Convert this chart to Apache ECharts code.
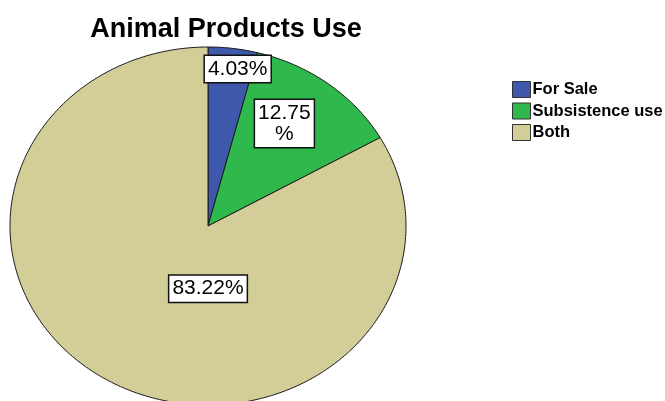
<!DOCTYPE html>
<html><head><meta charset="utf-8">
<script src="https://cdn.jsdelivr.net/npm/echarts@6/dist/echarts.min.js"></script>
<style>html,body{margin:0;padding:0;background:#fff}#chart{width:665px;height:401px}</style>
</head><body><div id="chart"></div>
<script>
// Animal products use: share of respondents (%)
const categories = ['For Sale', 'Subsistence use', 'Both'];
const shares = [4.03, 12.75, 83.22];
const sliceColors = ['#3e58ab', '#2fb84b', '#d3ce98'];

// Elliptical pie geometry and label placement (angle clockwise from 12 o'clock, fraction of radius)
const pieLayout = { cx: 208, cy: 226, rx: 198, ry: 179 };
const labelSpots = [
  { angle: 9.7, frac: 0.89, wrap: false },
  { angle: 34, frac: 0.69, wrap: true },
  { angle: 180, frac: 0.35, wrap: false }
];

const total = shares.reduce((a, b) => a + b, 0);

function ellipsePoint(deg, f) {
  const t = deg * Math.PI / 180;
  return [pieLayout.cx + f * pieLayout.rx * Math.sin(t), pieLayout.cy - f * pieLayout.ry * Math.cos(t)];
}

function sliceRenderer(i) {
  return function (params, api) {
    let start = 0;
    for (let k = 0; k < i; k++) start += shares[k];
    const value = api.value(0);
    const a0 = start / total * 360;
    const a1 = (start + value) / total * 360;
    const steps = Math.max(2, Math.ceil(a1 - a0));
    const pts = [[pieLayout.cx, pieLayout.cy]];
    for (let s = 0; s <= steps; s++) pts.push(ellipsePoint(a0 + (a1 - a0) * s / steps, 1));
    const spot = labelSpots[i];
    const pos = ellipsePoint(spot.angle, spot.frac);
    const num = value.toFixed(2);
    const txt = spot.wrap ? num + '\n%' : num + '%';
    return {
      type: 'group',
      children: [
        {
          type: 'polygon',
          shape: { points: pts },
          style: { fill: sliceColors[i], stroke: '#1a1a1a', lineWidth: 1 },
          z2: 1
        },
        {
          type: 'text',
          x: pos[0], y: pos[1],
          style: {
            text: txt,
            font: '21px Arial, "Liberation Sans", sans-serif',
            fill: '#000',
            align: 'center',
            verticalAlign: 'middle',
            lineHeight: 21,
            backgroundColor: '#fff',
            borderColor: '#111',
            borderWidth: 1.5,
            padding: [3, 3, 2, 3]
          },
          z2: 10
        }
      ]
    };
  };
}

const chart = echarts.init(document.getElementById('chart'), null, { renderer: 'canvas' });
chart.setOption({
  animation: false,
  backgroundColor: '#fff',
  title: {
    text: 'Animal Products Use',
    left: 221, top: 11, textAlign: 'center',
    textStyle: { fontFamily: 'Arial, "Liberation Sans", sans-serif', fontWeight: 'bold', fontSize: 27, color: '#000' }
  },
  legend: {
    orient: 'vertical',
    left: 507, top: 76,
    icon: 'rect',
    itemWidth: 18, itemHeight: 16, itemGap: 4.5,
    selectedMode: false,
    data: categories,
    itemStyle: { borderColor: '#333', borderWidth: 1 },
    textStyle: { fontFamily: 'Arial, "Liberation Sans", sans-serif', fontWeight: 'bold', fontSize: 16.5, color: '#000', padding: [0, 0, 0, -3] }
  },
  series: categories.map((name, i) => ({
    type: 'custom',
    name: name,
    coordinateSystem: 'none',
    itemStyle: { color: sliceColors[i] },
    emphasis: { disabled: true },
    silent: true,
    renderItem: sliceRenderer(i),
    data: [[shares[i]]]
  }))
});
</script></body></html>
